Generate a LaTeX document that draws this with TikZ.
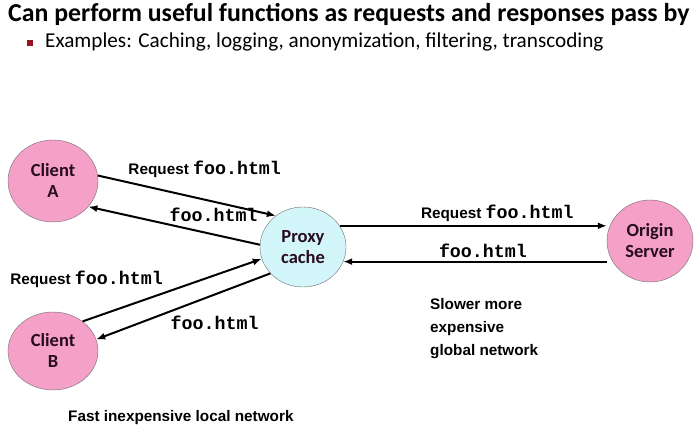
\documentclass[tikz,border=0pt]{standalone}
\usepackage{fontspec}
\setmainfont{Carlito}
\setsansfont{Liberation Sans}
\setmonofont{Liberation Mono}
\usepackage{tikz}
\usetikzlibrary{arrows.meta, shapes.geometric}

\definecolor{clientpink}{RGB}{245,160,200}
\definecolor{proxycyan}{RGB}{210,246,250}
\definecolor{rimgray}{RGB}{110,110,110}
\definecolor{nodeink}{RGB}{40,12,32}
\definecolor{bulletred}{RGB}{150,20,30}

\newcommand{\codefont}{\fontsize{18.3}{20}\selectfont\ttfamily\bfseries}

\begin{document}
\begin{tikzpicture}[
  x=1pt, y=-1pt,
  host/.style  = {draw=rimgray, ellipse, fill=clientpink, text=nodeink, align=center,
                  font=\bfseries\fontsize{18.5}{21}\selectfont, inner sep=0pt},
  cache/.style = {host, fill=proxycyan},
  lbl/.style   = {font=\sffamily\bfseries\fontsize{15.3}{23}\selectfont, inner sep=3pt},
  arrow/.style = {line width=2pt, -{Latex[length=9pt, width=7pt]}}
]
  \useasboundingbox (0,0) rectangle (700,433);

  % Heading and bullet
  \node[anchor=base west, inner sep=0pt, font=\bfseries\fontsize{25.8}{28}\selectfont] (title)
    at (8,22) {Can perform useful functions as requests and responses pass by};
  \node[fill=bulletred, minimum size=5.5pt, inner sep=0pt] (bullet) at (30,43) {};
  \node[anchor=base west, inner sep=0pt, font=\fontsize{21.2}{23}\selectfont] (examples)
    at (45,48) {Examples: Caching, logging, anonymization, filtering, transcoding};

  % Clients on the left
  \node[host, minimum width=90pt, minimum height=82pt] (clientA) at (53,181) {Client\\A};
  \node[host, minimum width=90pt, minimum height=78pt] (clientB) at (53,351) {Client\\B};

  % Proxy in the middle
  \node[cache, minimum width=86pt, minimum height=80pt] (proxy) at (303,247) {Proxy\\cache};

  % Origin server on the right
  \node[host, minimum width=86pt, minimum height=82pt] (origin) at (650,241) {Origin\\Server};

  % Client A <-> proxy
  \draw[arrow] (clientA.7) -- (proxy.131)
    node[lbl, pos=0.15, anchor=south west] {Request {\codefont foo.html}};
  \draw[arrow] (proxy.177) -- (clientA.-36)
    node[lbl, pos=0.27, above=9pt] {\codefont foo.html};

  % Client B <-> proxy
  \draw[arrow] (clientB.45) -- (proxy.196)
    node[lbl, pos=0.47, anchor=south east] {Request {\codefont foo.html}};
  \draw[arrow] (proxy.219) -- (clientB.15)
    node[lbl, pos=0.32, below=17pt] {\codefont foo.html};

  % Proxy <-> origin server
  \draw[arrow] (proxy.30) -- (proxy.30 -| origin.west)
    node[lbl, pos=0.59, above] {Request {\codefont foo.html}};
  \draw[arrow] (proxy.-20 -| origin.west) -- (proxy.-20)
    node[lbl, pos=0.47, above] {\codefont foo.html};

  % Network notes
  \node[lbl, anchor=north west, align=left, inner sep=0pt] (slownet) at (430,298)
    {Slower more\\expensive\\global network};
  \node[lbl, anchor=west, inner sep=0pt] (fastnet) at (68,418)
    {Fast inexpensive local network};

\end{tikzpicture}
\end{document}
